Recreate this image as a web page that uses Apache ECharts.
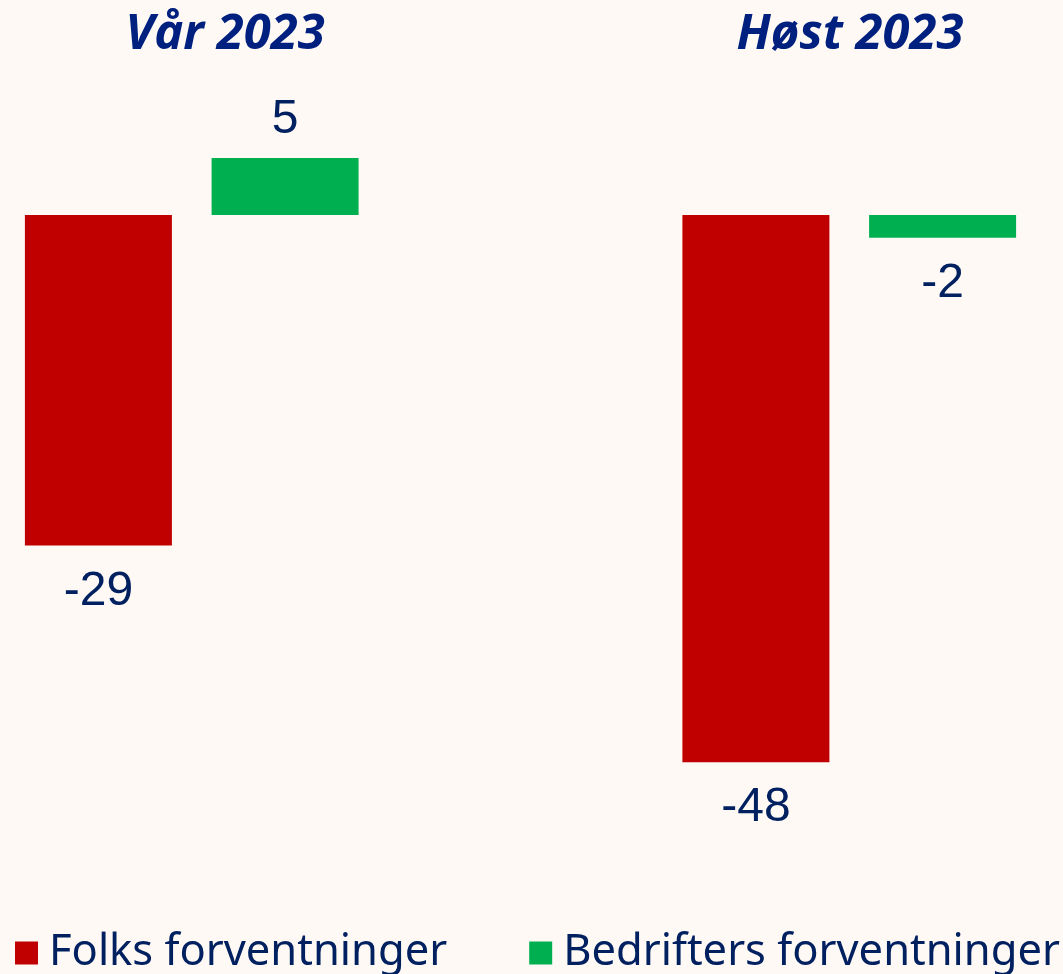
<!DOCTYPE html>
<html lang="no">
<head>
  <meta charset="UTF-8">
  <title>Forventninger 2023</title>
  <script src="https://cdn.jsdelivr.net/npm/echarts@6/dist/echarts.min.js"></script>
  <style>
    html, body { margin: 0; padding: 0; background-color: #fef9f5; }
    #chart { width: 1063px; height: 974px; }
  </style>
</head>
<body>
<div id="chart"></div>
<script>
  // data
  const categories = ['Vår 2023', 'Høst 2023'];
  const seriesNames = ['Folks forventninger', 'Bedrifters forventninger'];
  const folks = [-29, -48];
  const bedrifter = [5, -2];

  const navy = '#002060';
  const colors = ['#c00000', '#00b050'];

  // negative bars get their label below the bar
  function withLabels(values) {
    return values.map(function (v) {
      return { value: v, label: { position: v < 0 ? 'bottom' : 'top', distance: v < 0 ? 22 : 14 } };
    });
  }

  const chart = echarts.init(document.getElementById('chart'), null, { renderer: 'canvas' });

  const titleStyle = { color: '#00207f', fontSize: 49, fontWeight: 'bold', fontStyle: 'italic', fontFamily: 'Open Sans' };

  const option = {
    backgroundColor: '#fef9f5',
    animation: false,
    title: [
      { text: categories[0], left: 220, top: 6, textAlign: 'center', textStyle: titleStyle },
      { text: categories[1], left: 845, top: 6, textAlign: 'center', textStyle: titleStyle }
    ],
    legend: {
      left: 15,
      bottom: -1,
      padding: 0,
      itemWidth: 23,
      itemHeight: 23,
      itemGap: 82,
      icon: 'rect',
      data: seriesNames,
      textStyle: { color: navy, fontSize: 43.5, fontFamily: 'Noto Sans', padding: [0, 0, 0, 6] }
    },
    grid: {
      outerBoundsMode: 'none',
      containLabel: false,
      left: -137,
      width: 1315,
      top: 101,
      height: 798
    },
    xAxis: {
      type: 'category',
      data: categories,
      show: false
    },
    yAxis: {
      type: 'value',
      min: -60,
      max: 10,
      show: false,
      splitLine: { show: false }
    },
    series: [
      {
        name: seriesNames[0],
        type: 'bar',
        barWidth: 147,
        barGap: '27%',
        itemStyle: { color: colors[0] },
        label: { show: true, color: navy, fontSize: 48, fontFamily: 'Liberation Sans' },
        data: withLabels(folks)
      },
      {
        name: seriesNames[1],
        type: 'bar',
        barWidth: 147,
        barGap: '27%',
        itemStyle: { color: colors[1] },
        label: { show: true, color: navy, fontSize: 48, fontFamily: 'Liberation Sans' },
        data: withLabels(bedrifter)
      }
    ]
  };

  chart.setOption(option);
  window.addEventListener('resize', chart.resize);
</script>
</body>
</html>
